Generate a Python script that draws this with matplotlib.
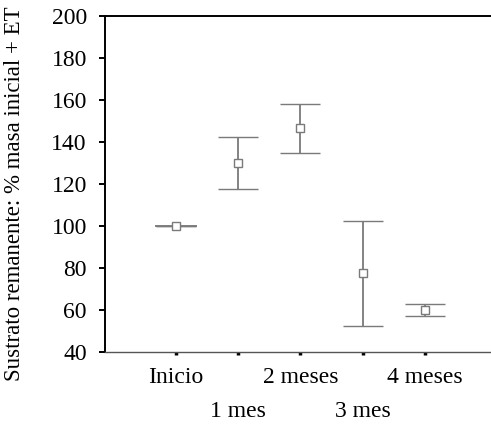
import matplotlib
matplotlib.use("Agg")
import matplotlib.pyplot as plt

# remaining substrate, % of initial mass, with standard error
etapas = ["Inicio", "1 mes", "2 meses", "3 mes", "4 meses"]
media = [100, 130, 146.5, 77.5, 60]
error = [0, 12.5, 11.5, 25, 3]

plt.rcParams["font.family"] = ["Liberation Serif", "DejaVu Serif"]
FS = 17

fig = plt.figure(figsize=(4.91, 4.26), dpi=100)
ax = fig.add_axes([0.2138, 0.1737, 0.7862, 0.7887])

x = list(range(len(etapas)))
ax.errorbar(x, media, yerr=error, fmt="s", color="#7a7a7a", ecolor="#7a7a7a",
            elinewidth=1.3, capsize=14.5, capthick=1.3,
            markersize=6.2, markerfacecolor="white", markeredgecolor="#7a7a7a",
            markeredgewidth=1.0)
# Inicio has no spread, only its cap line is drawn
ax.hlines(media[0], -0.33, 0.33, color="#7a7a7a", lw=1.3, zorder=1)

ax.set_xlim(-1.14, 5.06)
ax.set_ylim(40, 200)
ax.set_yticks(range(40, 201, 20))
ax.set_xticks(x)
ax.set_xticklabels(etapas)

ax.spines["right"].set_visible(False)
ax.spines["left"].set_linewidth(1.4)
ax.spines["top"].set_linewidth(1.4)
ax.spines["bottom"].set_color("#555555")
ax.spines["bottom"].set_linewidth(1.0)

ax.tick_params(axis="y", direction="out", length=4, width=1.4, pad=9, labelsize=FS)
ax.tick_params(axis="x", direction="out", length=2, width=2.5, pad=9, labelsize=FS)
for i, t in enumerate(ax.xaxis.get_major_ticks()):
    if i % 2 == 1:
        t.set_pad(33)

fig.text(15 / 491, 1 - 194 / 426, "Sustrato remanente: % masa inicial + ET",
         rotation=90, ha="center", va="center", fontsize=16.5)

fig.savefig("out.png", dpi=100)
